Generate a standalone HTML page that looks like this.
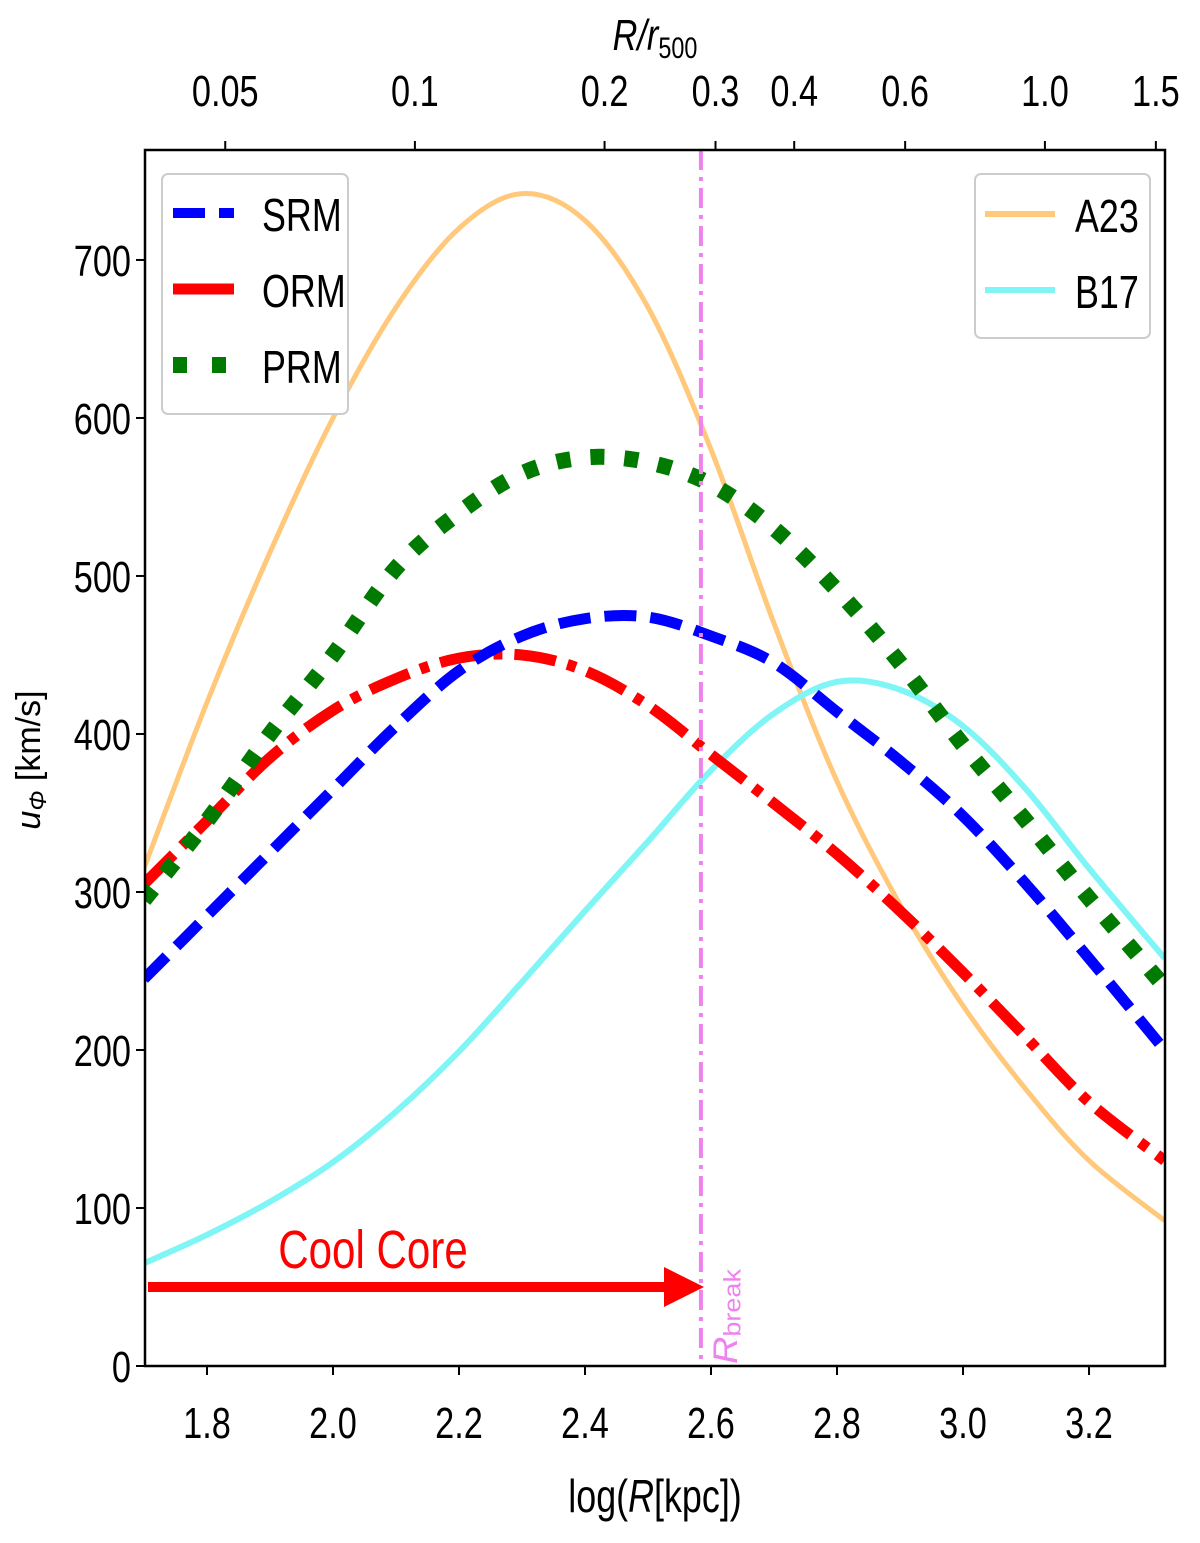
<!DOCTYPE html>
<html><head><meta charset="utf-8"><style>
html,body{margin:0;padding:0;background:#fff;}
svg{display:block;font-family:"Liberation Sans",sans-serif;}
</style></head><body>
<svg id="chart" width="1200" height="1543" viewBox="0 0 1200 1543">
<g id="plot"></g>
</svg>
<script>
const logR = [1.7,1.8,1.9,2.0,2.1,2.2,2.3,2.4,2.5,2.6,2.7,2.8,2.9,3.0,3.1,3.2,3.32];
const a23 = [315,420,515,600,670,720,742,725,670,580,470,370,292,228,175,130,92];
const b17 = [65,83,104,129,161,199,243,288,332,377,413,433,428,405,365,315,258];
const srm = [245,285,325,365,405,440,462,473,474,462,445,414,383,348,305,258,200];
const orm = [305,345,385,415,435,448,450,440,418,387,356,324,288,249,208,167,130];
const prm = [295,345,400,450,505,540,565,575,572,558,530,491,445,393,345,296,240];
const xTicks = [1.8,2.0,2.2,2.4,2.6,2.8,3.0,3.2];
const xTickLabels = ["1.8","2.0","2.2","2.4","2.6","2.8","3.0","3.2"];
const yTicks = [0,100,200,300,400,500,600,700];
const topTicks = [0.05,0.1,0.2,0.3,0.4,0.6,1.0,1.5];
const topTickLabels = ["0.05","0.1","0.2","0.3","0.4","0.6","1.0","1.5"];
const logR500 = 3.13;
const rBreak = 2.584;

const L=145,R=1165,T=150,B=1366;
const xMin=1.7016,xMax=3.3206,yMin=0,yMax=769.6;
const X=v=>L+(v-xMin)/(xMax-xMin)*(R-L);
const Y=v=>B-(v-yMin)/(yMax-yMin)*(B-T);
const NS="http://www.w3.org/2000/svg";
const svg=document.getElementById('chart');
const plot=document.getElementById('plot');
function mk(tag,attrs,parent){const e=document.createElementNS(NS,tag);for(const k in attrs)e.setAttribute(k,attrs[k]);(parent||svg).appendChild(e);return e;}
function txt(x,y,s,size,anchor,fill,parent,sx){const e=mk('text',{transform:`translate(${x},${y}) scale(${sx||0.78},1)`,'font-size':size,'text-anchor':anchor||'middle',fill:fill||'#000'},parent);e.textContent=s;return e;}

const cp=mk('clipPath',{id:'clip'});
mk('rect',{x:L,y:T,width:R-L,height:B-T},cp);
plot.setAttribute('clip-path','url(#clip)');

function pathFor(xs,ys){
  const p=xs.map((x,i)=>[X(x),Y(ys[i])]);
  let d=`M${p[0][0]},${p[0][1]}`;
  for(let i=0;i<p.length-1;i++){
    const p0=p[i-1]||p[i],p1=p[i],p2=p[i+1],p3=p[i+2]||p2;
    const c1=[p1[0]+(p2[0]-p0[0])/6,p1[1]+(p2[1]-p0[1])/6];
    const c2=[p2[0]-(p3[0]-p1[0])/6,p2[1]-(p3[1]-p1[1])/6];
    d+=`C${c1[0]},${c1[1]} ${c2[0]},${c2[1]} ${p2[0]},${p2[1]}`;
  }
  return d;
}
let e;
e=mk('path',{d:pathFor(logR,a23),fill:'none',stroke:'#ffc87a',"stroke-width":5},plot);


e=mk('path',{d:pathFor(logR,b17),fill:'none',stroke:'#7ff5f5',"stroke-width":6},plot);


e=mk('path',{d:pathFor(logR,orm),fill:'none',stroke:'#ff0000',"stroke-width":11,"stroke-dasharray":"42 12 9 12"},plot);


e=mk('path',{d:pathFor(logR,srm),fill:'none',stroke:'#0000ff',"stroke-width":11,"stroke-dasharray":"32 14"},plot);


e=mk('path',{d:pathFor(logR,prm),fill:'none',stroke:'#007a00',"stroke-width":16,"stroke-dasharray":"14 20"},plot);


e=mk('line',{x1:X(rBreak),x2:X(rBreak),y1:T,y2:B,stroke:'#ee82ee',"stroke-width":4,"stroke-dasharray":"20 7 4 7"},plot);



e=mk('line',{x1:148,x2:668,y1:Y(50),y2:Y(50),stroke:'#ff0000',"stroke-width":10});


mk('polygon',{points:`664,${Y(50)-20} 704,${Y(50)} 664,${Y(50)+20}`,fill:'#ff0000'});
e=txt(373,1268,'Cool Core',54,'middle','#ff0000');


e=mk('text',{transform:`translate(737,1364) rotate(-90) scale(1,0.9)`,'font-size':38,fill:'#ee82ee','font-style':'italic'});
e.innerHTML='R<tspan font-size="27" font-style="normal" dy="4">break</tspan>';



e=mk('rect',{x:L,y:T,width:R-L,height:B-T,fill:'none',stroke:'#000','stroke-width':2.5});



xTicks.forEach((v,i)=>{mk('line',{x1:X(v),x2:X(v),y1:B,y2:B+9,stroke:'#000','stroke-width':2});
 e=txt(X(v),1438,xTickLabels[i],44);
 
 });
yTicks.forEach(v=>{mk('line',{x1:L-9,x2:L,y1:Y(v),y2:Y(v),stroke:'#000','stroke-width':2});
 e=txt(L-14,Y(v)+16,String(v),44,'end');
 
 });
topTicks.forEach((v,i)=>{const x=X(Math.log10(v)+logR500);
 mk('line',{x1:x,x2:x,y1:T-9,y2:T,stroke:'#000','stroke-width':2});
 e=txt(x,106,topTickLabels[i],44);
 
 });

e=mk('text',{transform:'translate(655,1512) scale(0.78,1)','font-size':46,'text-anchor':'middle'});
e.innerHTML='log(<tspan font-style="italic">R</tspan>[kpc])';


e=mk('text',{transform:'translate(655,50) scale(0.78,1)','font-size':44,'text-anchor':'middle','font-style':'italic'});
e.innerHTML='R/r<tspan font-size="30" font-style="normal" dy="8">500</tspan>';


e=mk('text',{transform:'translate(40,760) rotate(-90)','font-size':34,'text-anchor':'middle'});
e.innerHTML='<tspan font-style="italic">u</tspan><tspan font-size="24" font-style="italic" dy="6">Φ</tspan><tspan dy="-6"> [km/s]</tspan>';



const lg1=mk('g',{});


mk('rect',{x:162,y:174,width:186,height:240,rx:6,fill:'#fff',stroke:'#ccc','stroke-width':2},lg1);
[['SRM','#0000ff',10,'32 14'],['ORM','#ff0000',11,''],['PRM','#007a00',16,'14 25']].forEach((s,i)=>{
 const y=213+i*76;
 mk('line',{x1:173,x2:234,y1:y,y2:y,stroke:s[1],'stroke-width':s[2],'stroke-dasharray':s[3]},lg1);
 e=txt(262,y+18,s[0],46,'start','#000',lg1);
 
 });
const lg2=mk('g',{});


mk('rect',{x:975,y:174,width:175,height:164,rx:6,fill:'#fff',stroke:'#ccc','stroke-width':2},lg2);
[['A23','#ffc87a'],['B17','#7ff5f5']].forEach((s,i)=>{
 const y=214+i*76;
 mk('line',{x1:985,x2:1055,y1:y,y2:y,stroke:s[1],'stroke-width':6},lg2);
 e=txt(1075,y+18,s[0],46,'start','#000',lg2);
 
 });
</script>
</body></html>
